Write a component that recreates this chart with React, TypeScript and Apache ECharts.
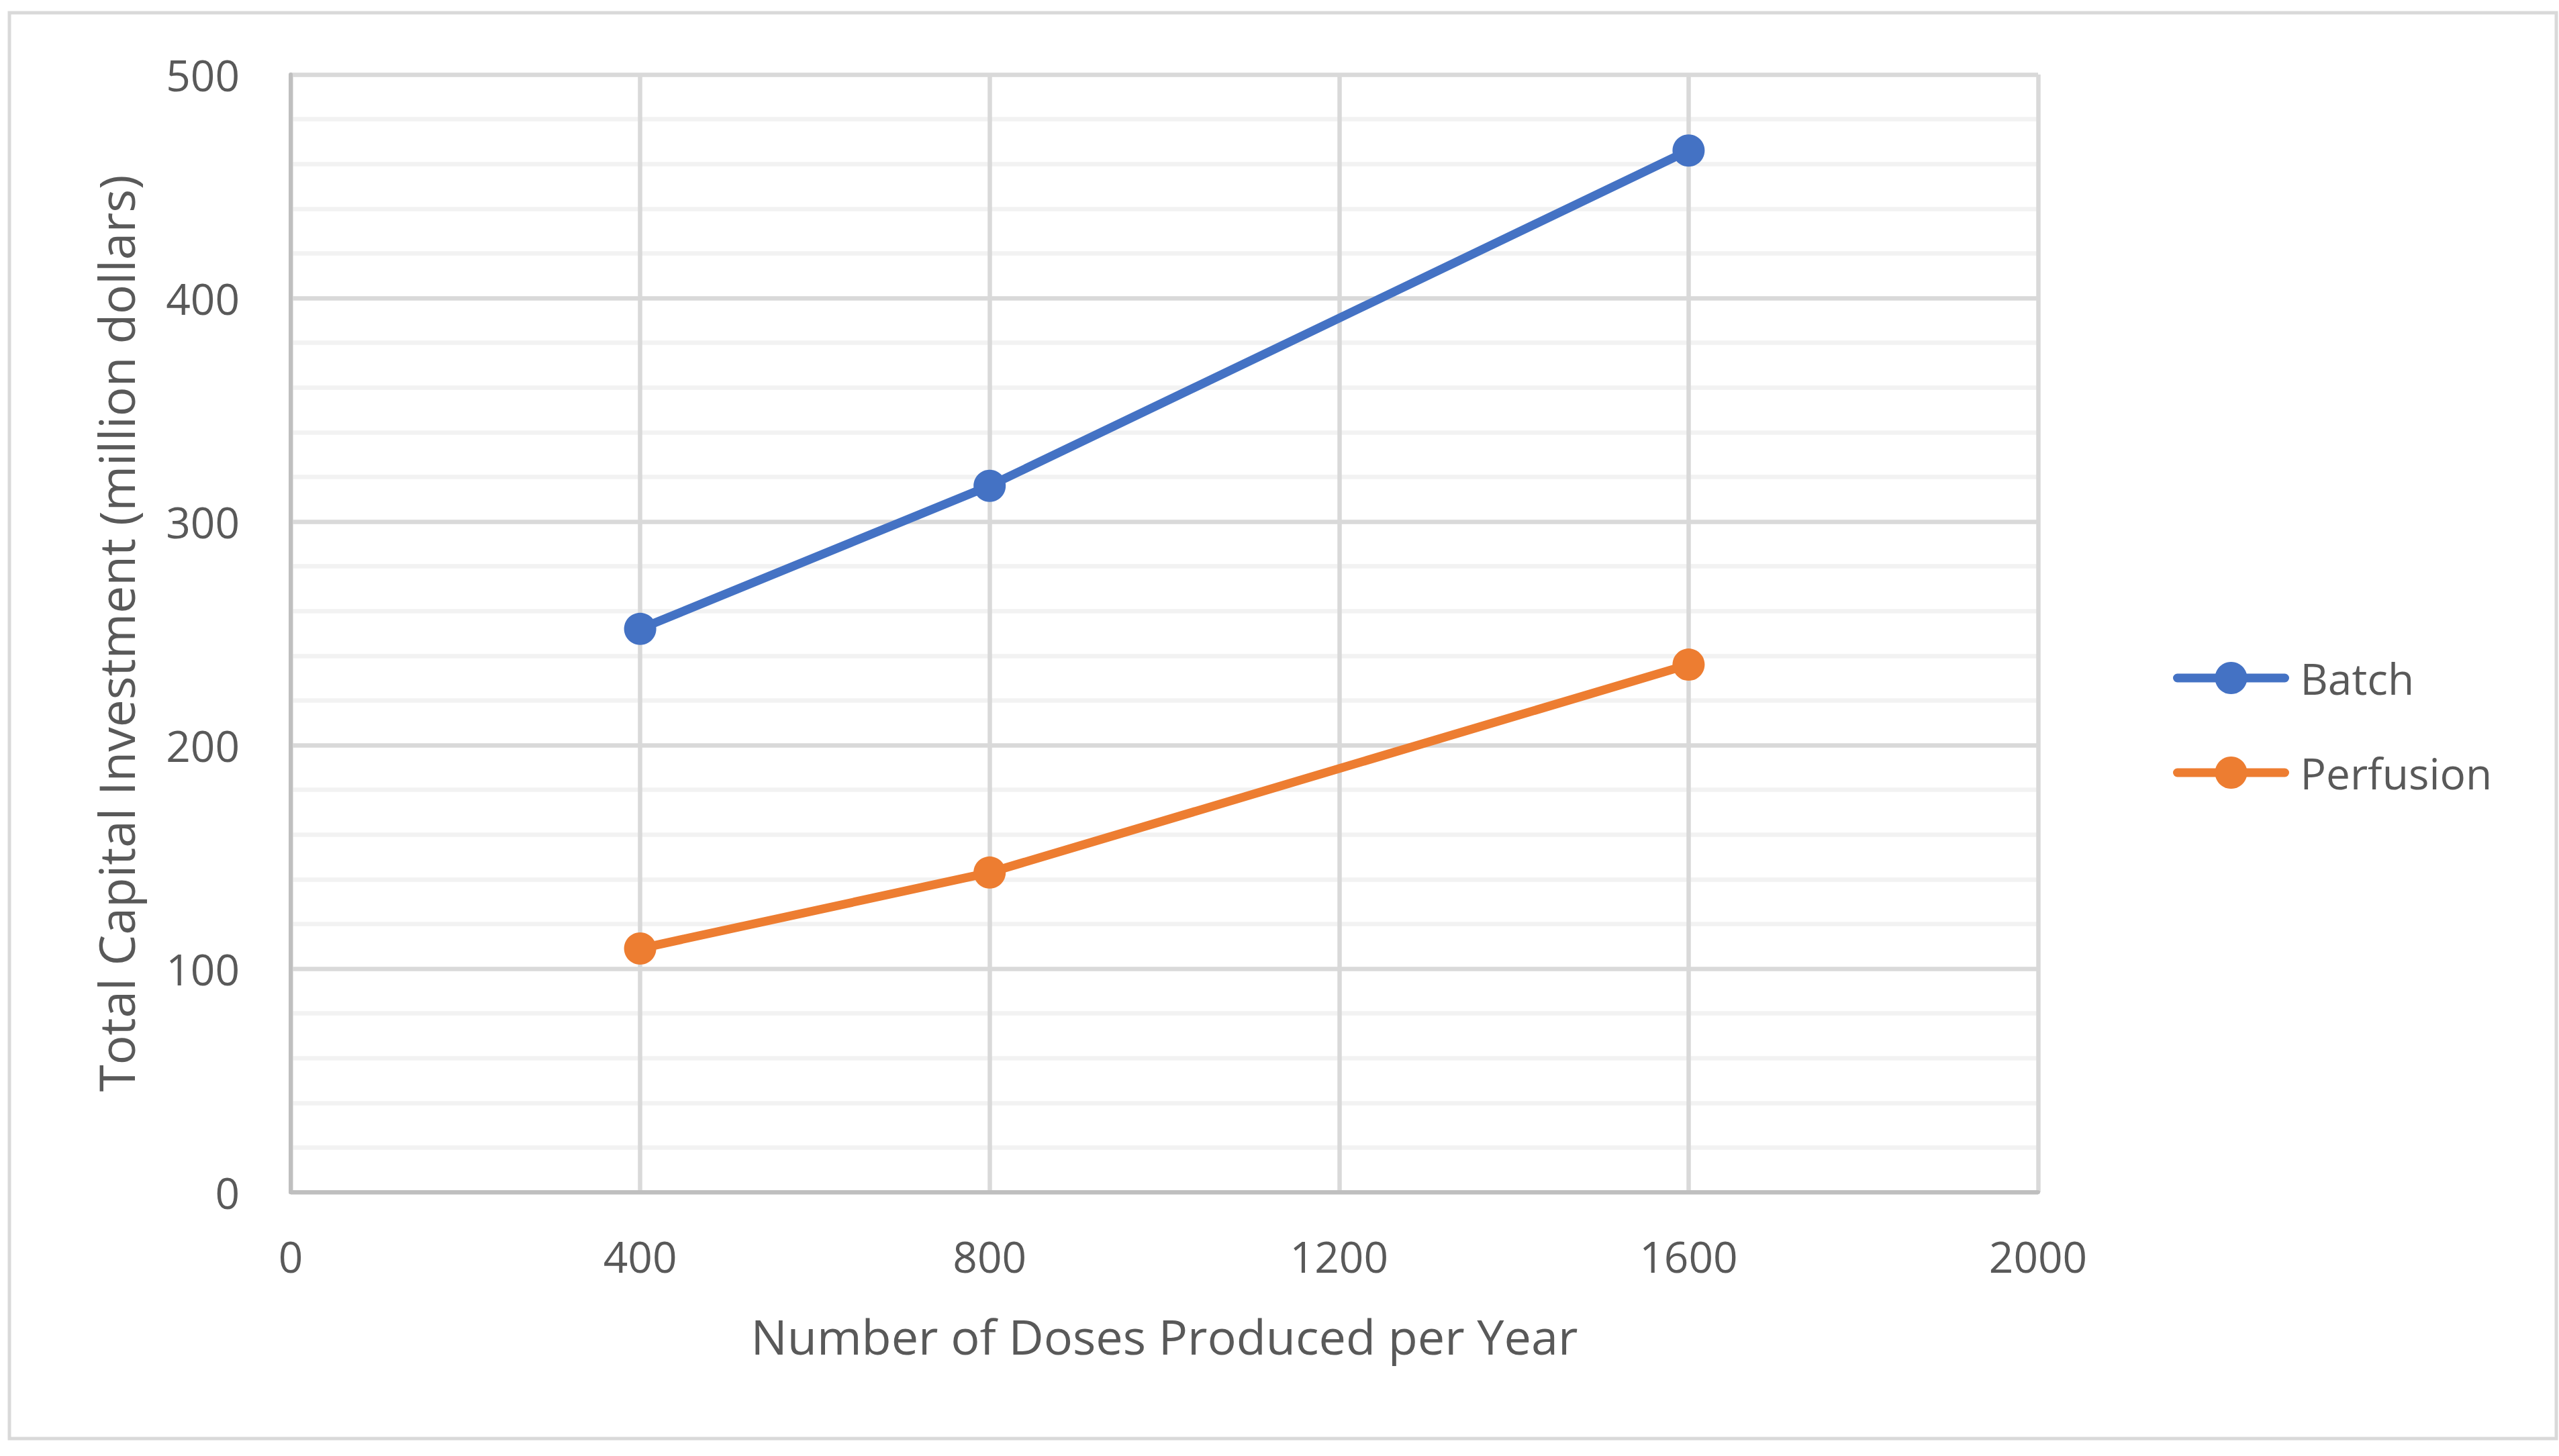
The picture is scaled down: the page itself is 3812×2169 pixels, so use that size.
import React, { useEffect, useRef } from "react";
import * as echarts from "echarts";

const doses = [400, 800, 1600];
const batch = [252, 316, 466];
const perfusion = [109, 143, 236];
const xTicks = [0, 400, 800, 1200, 1600, 2000];
const yTicks = [0, 100, 200, 300, 400, 500];

const FONT = "Open Sans";
const TEXT = "#595959";

export default function App() {
  const ref = useRef<HTMLDivElement>(null);
  useEffect(() => {
    if (!ref.current) return;
    const chart = echarts.init(ref.current, undefined, { renderer: "svg" });
    const mk = (name: string, ys: number[], color: string) => ({
      name,
      type: "line",
      data: doses.map((d, i) => [d, ys[i]]),
      symbol: "circle",
      symbolSize: 48,
      lineStyle: { width: 13, color, cap: "round" },
      itemStyle: { color },
      z: 5,
    });
    chart.setOption({
      animation: false,
      backgroundColor: "#ffffff",
      textStyle: { fontFamily: FONT, color: TEXT },
      graphic: [
        {
          type: "rect",
          shape: { x: 14, y: 19, width: 3794, height: 2124 },
          style: { fill: "none", stroke: "#d9d9d9", lineWidth: 5 },
          silent: true,
        },
      ],
      grid: { left: 433, top: 111, width: 2603, height: 1665, containLabel: false },
      legend: {
        orient: "vertical",
        left: 3232,
        top: 972,
        itemWidth: 160,
        itemHeight: 60,
        itemGap: 75,
        data: ["Batch", "Perfusion"],
        lineStyle: { width: 13, cap: "round" },
        textStyle: {
          fontFamily: FONT,
          fontSize: 64,
          color: TEXT,
          lineHeight: 66,
          padding: [0, 0, 0, 18],
        },
      },
      xAxis: {
        type: "value",
        min: xTicks[0],
        max: xTicks[xTicks.length - 1],
        interval: xTicks[1] - xTicks[0],
        name: "Number of Doses Produced per Year",
        nameLocation: "middle",
        nameGap: 178,
        nameTextStyle: { fontFamily: FONT, fontSize: 72, color: TEXT },
        axisLine: { show: true, onZero: false, lineStyle: { color: "#bfbfbf", width: 6 } },
        axisTick: { show: false },
        axisLabel: {
          fontFamily: FONT,
          fontSize: 64,
          color: TEXT,
          margin: 63,
          formatter: (v: number) => String(v),
        },
        splitLine: { show: true, lineStyle: { color: "#d9d9d9", width: 6.5 } },
      },
      yAxis: {
        type: "value",
        min: yTicks[0],
        max: yTicks[yTicks.length - 1],
        interval: yTicks[1] - yTicks[0],
        name: "Total Capital Investment (million dollars)",
        nameLocation: "middle",
        nameGap: 224,
        nameTextStyle: { fontFamily: FONT, fontSize: 73, color: TEXT },
        axisLine: { show: true, onZero: false, lineStyle: { color: "#bfbfbf", width: 6 } },
        axisTick: { show: false },
        axisLabel: {
          fontFamily: FONT,
          fontSize: 64,
          color: TEXT,
          margin: 76,
          formatter: (v: number) => String(v),
        },
        splitLine: { show: true, lineStyle: { color: "#d9d9d9", width: 6.5 } },
        minorTick: { show: false, splitNumber: 5 },
        minorSplitLine: { show: true, lineStyle: { color: "#f2f2f2", width: 6.5 } },
      },
      series: [mk("Batch", batch, "#4472c4"), mk("Perfusion", perfusion, "#ed7d31")],
    });
    return () => chart.dispose();
  }, []);
  return (
    <div
      ref={ref}
      style={{ position: "fixed", left: 0, top: 0, width: 3812, height: 2169, background: "#fff" }}
    />
  );
}
